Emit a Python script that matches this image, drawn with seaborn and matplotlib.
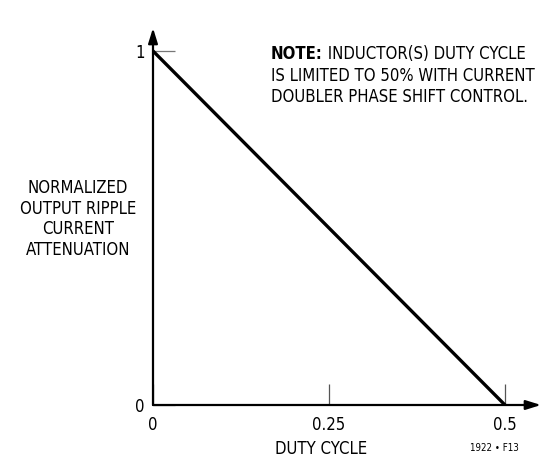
import numpy as np
import pandas as pd
import seaborn as sns
from matplotlib import pyplot as plt

duty_cycle = [0.0, 0.5]
attenuation = [1.0, 0.0]
x_ticks = [0, 0.25, 0.5]
x_tick_labels = ["0", "0.25", "0.5"]
y_ticks = [0, 1]
y_tick_labels = ["0", "1"]

sns.set_style("white")
plt.rcParams['font.family'] = ['DejaVu Sans']
plt.rcParams['font.stretch'] = 'condensed'
plt.rcParams['text.color'] = 'black'
plt.rcParams['xtick.labelcolor'] = 'black'
plt.rcParams['ytick.labelcolor'] = 'black'
plt.rcParams['axes.labelcolor'] = 'black'

W, H = 541, 461
fs = 12
fig = plt.figure(figsize=(W / 100, H / 100), dpi=100)
ax = fig.add_axes([153 / W, 56 / H, (W - 153) / W, (405 - 28) / H])

df = pd.DataFrame({"duty": duty_cycle, "att": attenuation})
sns.lineplot(data=df, x="duty", y="att", color="black", linewidth=2.4, ax=ax)

ax.set_xlim(0, (W - 153) / 704)
ax.set_ylim(0, (405 - 28) / 354)

for s in ax.spines.values():
    s.set_visible(False)

# axes with arrow heads
arrow = dict(arrowstyle="-|>,head_length=0.9,head_width=0.28", color="black",
             lw=1.6, shrinkA=0, shrinkB=0)
ax.annotate("", xy=(1.0, 0), xytext=(0, 0), xycoords="axes fraction",
            arrowprops=arrow, annotation_clip=False)
ax.annotate("", xy=(0, 1.0), xytext=(0, 0), xycoords="axes fraction",
            arrowprops=arrow, annotation_clip=False)

ax.set_xticks(x_ticks, x_tick_labels)
ax.set_yticks(y_ticks, y_tick_labels)
ax.tick_params(axis="x", bottom=True, direction="in", length=15, width=0.9,
               color="#555555", pad=8, labelsize=fs)
ax.tick_params(axis="y", left=True, direction="in", length=16, width=0.9,
               color="#777777", pad=6, labelsize=fs)
ax.grid(False)

ax.set_xlabel("DUTY CYCLE", fontsize=fs)
ax.xaxis.set_label_coords((321 - 153) / (W - 153), -0.092)
ax.set_ylabel("NORMALIZED\nOUTPUT RIPPLE\nCURRENT\nATTENUATION", fontsize=fs,
              rotation=0, ha="center", va="center", linespacing=1.2)
ax.yaxis.set_label_coords((78 - 153) / (W - 153), (405 - 219) / (405 - 28))

t1 = ax.text(0.1676, 1.017, "NOTE:", fontsize=fs, fontweight="bold",
             va="top", ha="left", clip_on=False)
ax.annotate(" INDUCTOR(S) DUTY CYCLE", xy=(1, 0), xycoords=t1, va="bottom",
            ha="left", fontsize=fs, annotation_clip=False)
ax.text(0.1676, 1.017 - 22 / 354, "IS LIMITED TO 50% WITH CURRENT\nDOUBLER PHASE SHIFT CONTROL.",
        fontsize=fs, va="top", ha="left", linespacing=1.25, clip_on=False)

fig.text(470 / W, 1 - 448 / H, "1922 \u2022 F13", fontsize=7, va="center", ha="left")

fig.savefig("out.png", dpi=100)
